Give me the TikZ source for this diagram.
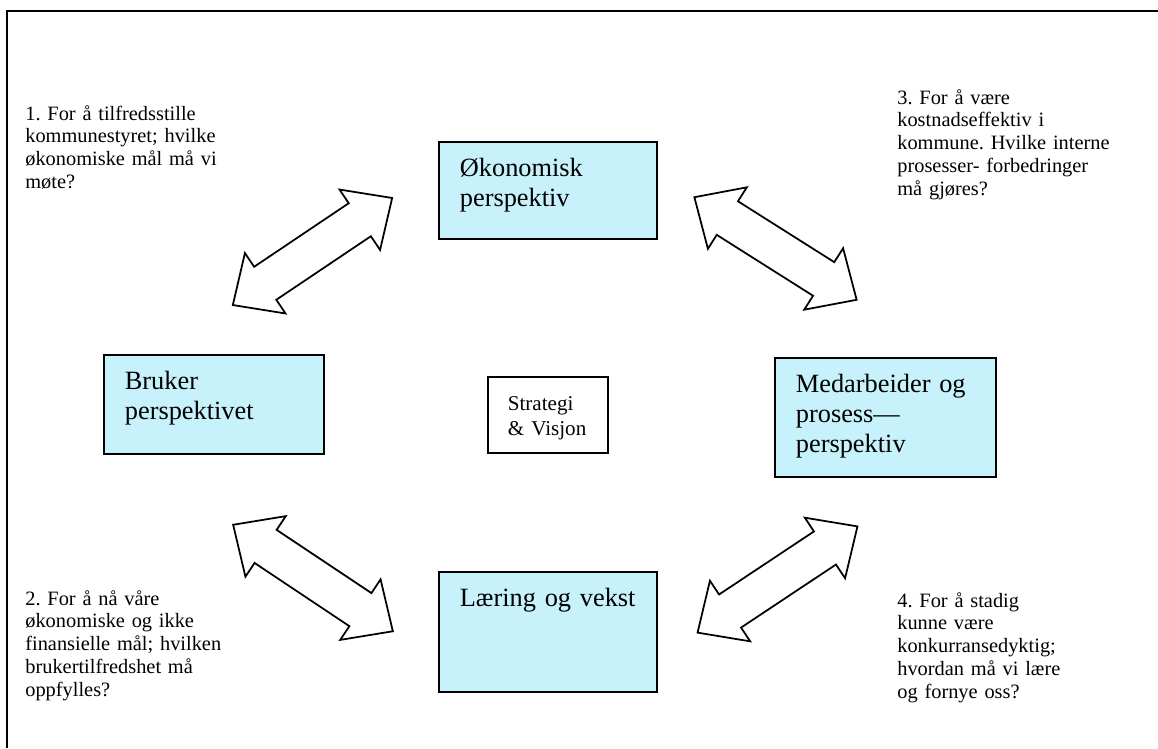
\documentclass[tikz,border=0pt]{standalone}
\usepackage{fontspec}
\setmainfont{Liberation Serif}
\usetikzlibrary{shapes.arrows}
\definecolor{perspcyan}{RGB}{199,241,251}
\frenchspacing

\begin{document}
\begin{tikzpicture}[
    x=0.02cm, y=-0.02cm,
    persp/.style={draw, line width=1pt, fill=perspcyan, anchor=north west,
        inner xsep=0.42cm, inner ysep=0.2cm, text height=0.5cm,
        align=left, font=\fontsize{15}{17}\selectfont},
    core/.style={draw, line width=1pt, anchor=north west, inner xsep=0.4cm,
        inner ysep=0.2cm, text height=0.48cm, text width=1.6cm, text depth=0.64cm,
        align=left, font=\fontsize{12}{13.8}\selectfont},
    question/.style={anchor=base west, inner sep=0pt, text width=5cm, align=left,
        font=\fontsize{11.6}{13}\selectfont},
    dblarrow/.style={draw, line width=1pt, fill=white, double arrow,
        inner xsep=0pt, inner ysep=0.38cm, double arrow head extend=0.33cm,
        double arrow tip angle=86, minimum height=3.84cm}
]
    \useasboundingbox (0,0) rectangle (1158,748);

    % ramme
    \draw[line width=1.1pt] (7,748) -- (7,11) -- (1158,11);

    % perspektivene
    \node[persp, text width=3.52cm, text depth=1.04cm] (okon) at (438,141)
        {Økonomisk\\perspektiv};
    \node[persp, text width=3.56cm, text depth=1.08cm] (bruker) at (103,354)
        {Bruker\\perspektivet};
    \node[persp, text width=3.58cm, text depth=1.48cm] (medarb) at (774,357)
        {Medarbeider og\\prosess—\\perspektiv};
    \node[persp, text width=3.52cm, text depth=1.50cm] (laering) at (438,571)
        {Læring og vekst};

    % midten
    \node[core] (strat) at (487,376) {Strategi\\\& Visjon};

    % doble piler
    \node[dblarrow, rotate=33.9] (pil1) at (312.5,251.5) {};
    \node[dblarrow, rotate=-32.3] (pil2) at (775.5,248.5) {};
    \node[dblarrow, rotate=-33.7] (pil3) at (313,578) {};
    \node[dblarrow, rotate=33.6] (pil4) at (777.5,579.5) {};

    % spørsmål
    \node[question] (q1) at (25,120)
        {1. For å tilfredsstille\\kommunestyret; hvilke\\økonomiske mål må vi\\møte?};
    \node[question] (q3) at (897,104)
        {3. For å være\\kostnadseffektiv i\\kommune. Hvilke interne\\prosesser- forbedringer\\må gjøres?};
    \node[question] (q2) at (25,605)
        {2. For å nå våre\\økonomiske og ikke\\finansielle mål; hvilken\\brukertilfredshet må\\oppfylles?};
    \node[question] (q4) at (897,607)
        {4. For å stadig\\kunne være\\konkurransedyktig;\\hvordan må vi lære\\og fornye oss?};
\end{tikzpicture}
\end{document}
